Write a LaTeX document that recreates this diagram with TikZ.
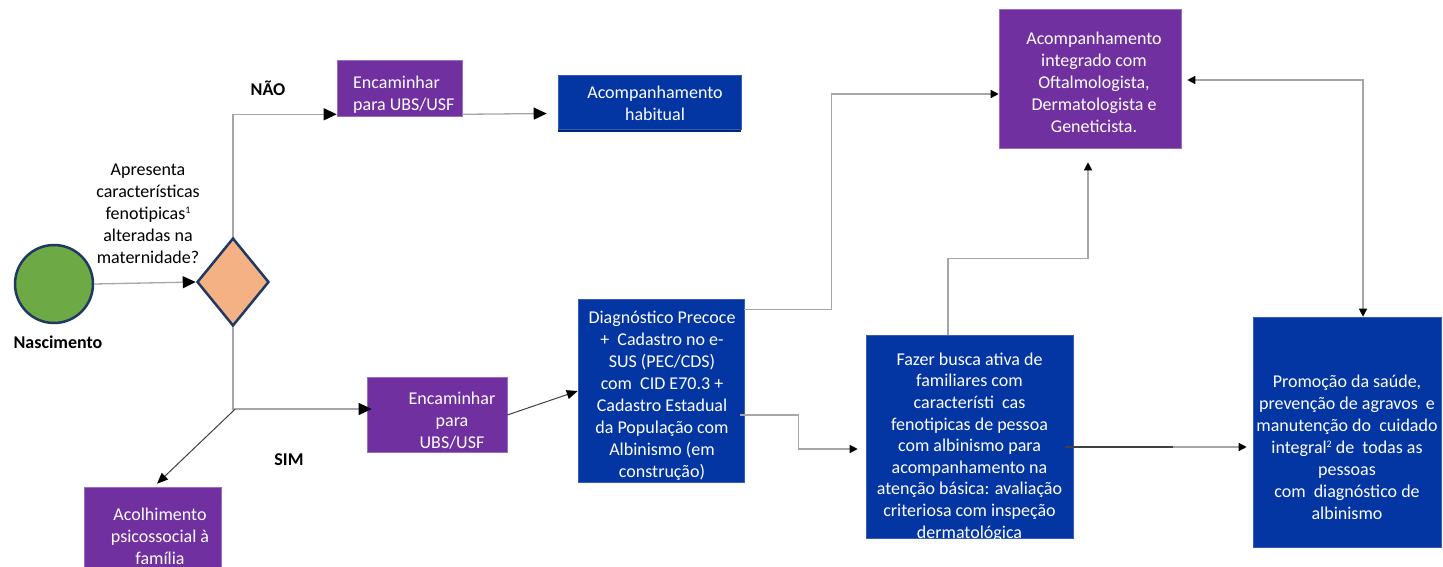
\documentclass[tikz,border=0pt]{standalone}
\usepackage{fontspec}
\setmainfont{Carlito}
\usetikzlibrary{shapes.geometric,arrows.meta,calc}
\definecolor{cpurple}{HTML}{7030A0}
\definecolor{cblue}{HTML}{0335A3}
\definecolor{cgreen}{HTML}{6DAA45}
\definecolor{corange}{HTML}{F4B183}
\definecolor{cnavy}{HTML}{1F3864}
\definecolor{cline}{HTML}{A6A6A6}
\definecolor{cdark}{HTML}{404040}
\begin{document}
\begin{tikzpicture}[x=1pt,y=-1pt,
  pbox/.style={fill=cpurple, draw=cpurple!70!white, line width=0.6pt, inner sep=0},
  bbox/.style={fill=cblue, draw=cblue!80!white, line width=0.6pt, inner sep=0},
  txt/.style={font=\fontsize{18}{22}\selectfont, text=white, inner sep=0, align=center},
  qtxt/.style={font=\fontsize{18}{22}\selectfont, text=black, inner sep=0, align=center},
  lbl/.style={font=\fontsize{18}{22}\selectfont\bfseries, inner sep=0},
  tipS/.tip={Triangle[length=8pt,width=8pt,color=black,fill=black]},
  tipB/.tip={Triangle[length=13pt,width=12pt,color=black,fill=black]},
  tipM/.tip={Triangle[length=11pt,width=9pt,color=black,fill=black]},
  arr/.style={draw=cline, line width=1.3pt, -tipS},
  bigarr/.style={draw=cline, line width=1.3pt, -tipB},
  darr/.style={draw=cdark, line width=1pt, -tipM},
  dbl/.style={draw=cline, line width=1.3pt, tipS-tipS}]
\useasboundingbox (0,0) rectangle (1443,567);

% start and decision
\node[circle, draw=cnavy, fill=cgreen, line width=2.5pt, minimum size=78pt, inner sep=0] (nasc) at (54,284) {};
\node[lbl] (nascl) at (58,342) {Nascimento};
\node[diamond, draw=cnavy, fill=corange, line width=2.5pt, minimum width=72pt, minimum height=88pt, inner sep=0] (dia) at (233,282) {};
\node[qtxt] (q) at (148,214) {Apresenta\\características\\fenotipicas{\fontsize{10}{10}\selectfont\raisebox{6pt}{1}}\\alteradas na\\maternidade?};
\node[lbl] (nao) at (268,88) {NÃO};
\node[lbl] (sim) at (289,460) {SIM};

% boxes
\node[pbox, minimum width=125pt, minimum height=56pt] (enc1) at (399.5,88) {};
\node[txt, align=left, anchor=west] (enc1t) at (353,94.5) {Encaminhar\\para UBS/USF};

\node[fill=cblue!70!black, minimum width=183pt, minimum height=55pt, inner sep=0] (habs) at (649.5,104.5) {};
\node[bbox, minimum width=183pt, minimum height=54pt] (hab) at (649.5,102) {};
\node[txt] (habt) at (655,103.5) {Acompanhamento\\habitual};

\node[pbox, minimum width=140pt, minimum height=75pt] (enc2) at (437,414.5) {};
\node[txt] (enc2t) at (452,420.5) {Encaminhar\\para\\UBS/USF};

\node[pbox, minimum width=137pt, minimum height=133pt] (acolh) at (152.5,553.5) {};
\node[txt] (acolht) at (160,536) {Acolhimento\\psicossocial à\\família};

\node[bbox, minimum width=166pt, minimum height=183pt] (diag) at (661,390.5) {};
\node[txt] (diagt) at (662,395.5) {Diagnóstico Precoce\\+\ \ Cadastro no e-\\SUS (PEC/CDS)\\com\ \ CID E70.3 +\\Cadastro Estadual\\da População com\\Albinismo (em\\construção)};

\node[bbox, minimum width=207pt, minimum height=203pt] (busca) at (969.5,436.5) {};
\node[txt, font=\fontsize{18}{21.6}\selectfont] (buscat) at (969.5,447) {Fazer busca ativa de\\familiares com\\característi\ \ cas\\fenotipicas de pessoa\\com albinismo para\\acompanhamento na\\atenção básica: avaliação\\criteriosa com inspeção\\dermatológica};

\node[pbox, minimum width=182pt, minimum height=139pt] (integ) at (1090,78.5) {};
\node[txt] (integt) at (1094,82.5) {Acompanhamento\\integrado com\\Oftalmologista,\\Dermatologista e\\Geneticista.};

\node[bbox, minimum width=188pt, minimum height=230pt] (prom) at (1347,432) {};
\node[txt] (promt) at (1347,447) {Promoção da saúde,\\prevenção de agravos\ \ e\\manutenção do\ \ cuidado\\integral{\fontsize{10}{10}\selectfont\raisebox{6pt}{2}} de\ \ todas as\\pessoas\\com\ \ diagnóstico de\\albinismo};

% connectors
\draw[bigarr] (nasc.east) -- (dia.west);
\draw[bigarr] (dia.north) |- ([yshift=2pt]enc1.south west);
\draw[bigarr] ([yshift=2pt]enc1.south east) -- ([xshift=-11pt,yshift=-11.5pt]hab.west);
\draw[bigarr] (dia.south) |- ([xshift=5pt,yshift=5.5pt]enc2.west);
\coordinate (split) at ($(dia.south)+(2,82)$);
\draw[darr] (split) -- ([xshift=4.5pt,yshift=3pt]acolh.north);
\draw[darr] ([yshift=-0.5pt]enc2.east) -- ([yshift=-0.5pt]diag.west);
\draw[arr] ([yshift=-11pt]diag.north east) -- ++(87,0) |- ([yshift=-15.5pt]integ.west);
\draw[arr] ([yshift=-24.5pt,xshift=-4pt]diag.east) -- ++(58,0) |- ([xshift=-8pt,yshift=-12.5pt]busca.west);
\draw[arr] ([xshift=-21.5pt]busca.north) -- ++(0,-76) -| ([xshift=-2pt,yshift=-14pt]integ.south);
\draw[arr] ([yshift=-10.5pt,xshift=-8pt]busca.east) -- ([xshift=-6pt,yshift=-15pt]prom.west);
\draw[draw=cdark, line width=2.5pt] ([yshift=-10.5pt,xshift=-8pt]busca.east) -- ++(108,0);
\draw[dbl] ([xshift=6pt,yshift=-1.5pt]integ.east) -| ([xshift=16pt]prom.north);
\end{tikzpicture}
\end{document}
